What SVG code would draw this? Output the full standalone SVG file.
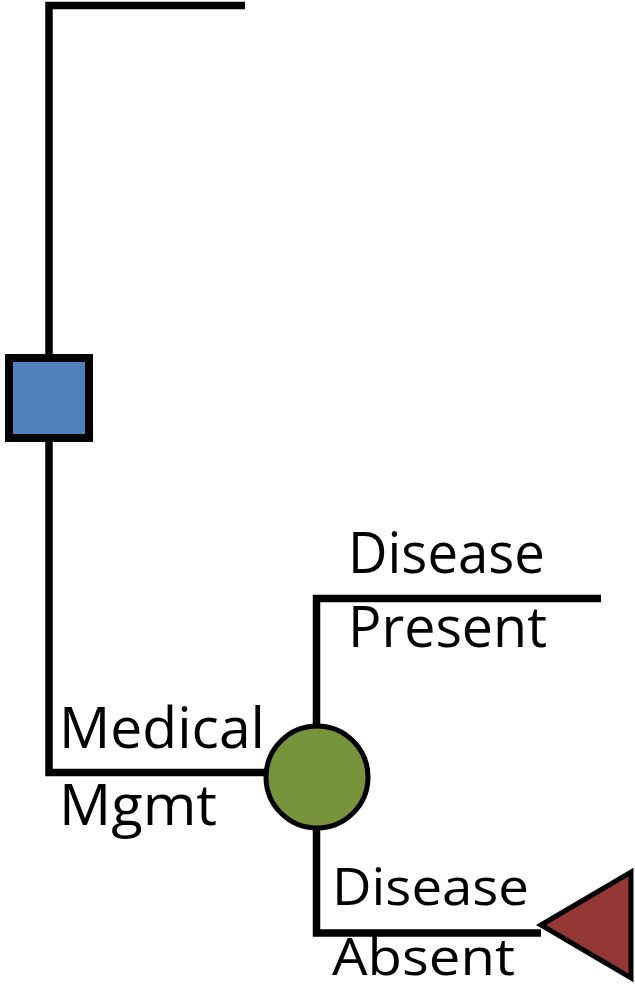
<svg xmlns="http://www.w3.org/2000/svg" width="635" height="989" viewBox="0 0 635 989">
<style>
.ln{fill:none;stroke:#000;stroke-width:7.5;stroke-linecap:butt;stroke-linejoin:miter}
.lbl{font-family:"Open Sans","Liberation Sans",sans-serif;font-size:57px;fill:#000}
.sm{font-size:52px}
</style>
<rect width="635" height="989" fill="#fff"/>
<g id="connectors">
<path class="ln" d="M245,5.5 H49 V358"/>
<path class="ln" d="M49,438 V772.5 H266"/>
<path class="ln" d="M316.5,726 V598.5 H601"/>
<path class="ln" d="M316.5,828 V933 H541"/>
</g>
<g id="decision">
<rect x="9" y="358" width="80" height="80" fill="#4F81BD" stroke="#000" stroke-width="8"/>
</g>
<g id="chance">
<circle cx="317" cy="777" r="51" fill="#77933C" stroke="#000" stroke-width="5"/>
</g>
<g id="terminal">
<polygon points="541,925 631,872 631,978" fill="#953735" stroke="#000" stroke-width="5" stroke-linejoin="miter"/>
</g>
<g id="labels">
<text class="lbl" x="348" y="573" textLength="197" lengthAdjust="spacingAndGlyphs">Disease</text>
<text class="lbl" x="348" y="647" textLength="199" lengthAdjust="spacingAndGlyphs">Present</text>
<text class="lbl" x="59" y="748" textLength="206" lengthAdjust="spacingAndGlyphs">Medical</text>
<text class="lbl" x="59" y="825" textLength="158" lengthAdjust="spacingAndGlyphs">Mgmt</text>
<text class="lbl sm" x="332" y="905" textLength="197" lengthAdjust="spacingAndGlyphs">Disease</text>
<text class="lbl sm" x="332" y="975" textLength="183" lengthAdjust="spacingAndGlyphs">Absent</text>
</g>
</svg>
